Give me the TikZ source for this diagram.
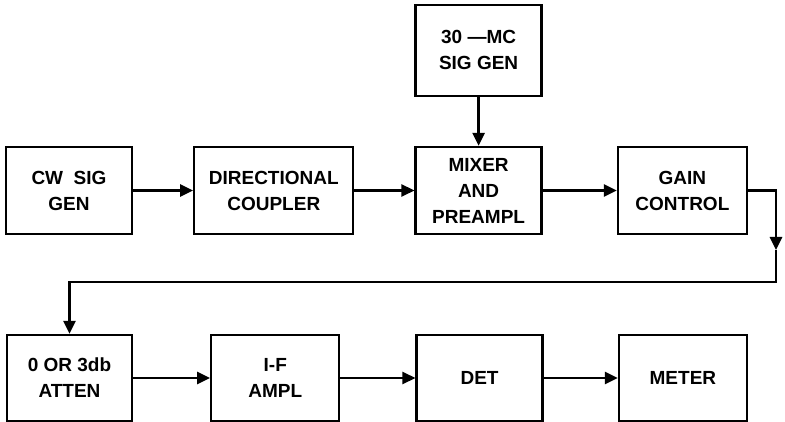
\documentclass[tikz,border=0pt]{standalone}
\usepackage{fontspec}
\setmainfont{Liberation Sans}
\usetikzlibrary{arrows.meta,positioning}

\begin{document}
\begin{tikzpicture}[
  x=1pt, y=1pt,
  blk/.style={draw, line width=2.3pt, align=center, inner sep=2pt,
              minimum height=87pt, font=\fontsize{19}{26}\selectfont\bfseries},
  arr/.style={-{Triangle[length=13pt,width=12pt]}, line width=2.6pt},
  wire/.style={line width=2.6pt}
]
\useasboundingbox (0,0) rectangle (785,-422);
% top row
\node[blk, minimum width=126pt] (cw) at (69,-190.5) {CW\ \ SIG\\GEN};
\node[blk, minimum width=159pt, right=60pt of cw] (dir) {DIRECTIONAL\\COUPLER};
\node[blk, minimum width=126pt, right=60pt of dir] (mix) {MIXER\\AND\\PREAMPL};
\node[blk, minimum width=129pt, right=74pt of mix] (gain) {GAIN\\CONTROL};
\node[blk, minimum width=126pt, minimum height=91pt, above=49pt of mix] (osc) {30 ---MC\\SIG GEN};
% bottom row
\node[blk, minimum width=125pt, minimum height=86pt] (atten) at (69.5,-378) {0 OR 3db\\ATTEN};
\node[blk, minimum width=128pt, minimum height=86pt, right=77pt of atten] (ifamp) {I-F\\AMPL};
\node[blk, minimum width=126pt, minimum height=86pt, right=75pt of ifamp] (det) {DET};
\node[blk, minimum width=128pt, minimum height=86pt, right=74pt of det] (meter) {METER};
\coordinate (ra) at (776,-250);
\coordinate (rb) at (776,-282);

\draw[arr] (cw) -- (dir);
\draw[arr] (dir) -- (mix);
\draw[arr] (mix) -- (gain);
\draw[arr] (osc) -- (mix);
\draw[arr] (gain.east) -| (ra);
\draw[arr] (ra) -- (rb) -| (atten.north);
\draw[arr] (atten) -- (ifamp);
\draw[arr] (ifamp) -- (det);
\draw[arr] (det) -- (meter);
\end{tikzpicture}
\end{document}
